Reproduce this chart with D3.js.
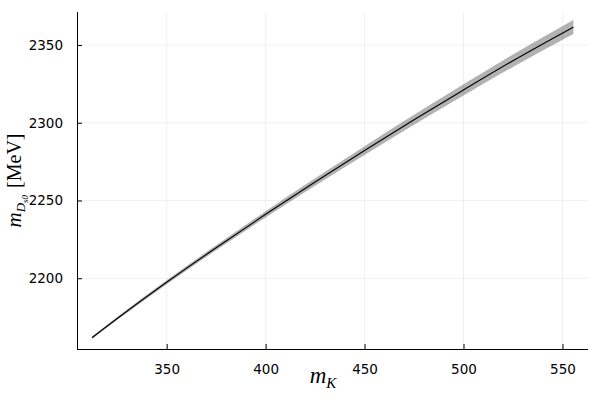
<!DOCTYPE html>
<html>
<head>
<meta charset="utf-8">
<script src="https://cdn.jsdelivr.net/npm/d3@7"></script>
<style>
  html, body { margin: 0; padding: 0; background: #fff; }
  svg { display: block; }
</style>
</head>
<body>
<div id="chart"></div>
<script>
// kaon mass (MeV) vs D_s0 mass (MeV), central curve with error band
const mK = [312.3, 325, 350, 375, 400, 425, 450, 475, 500, 525, 555.5];
const mDs0 = [2161.8, 2174.1, 2197.4, 2219.6, 2241.1, 2261.9, 2282.1, 2301.9, 2321.1, 2339.9, 2361.5];
const mDs0Err = [0.8, 1.0, 1.3, 1.6, 2.0, 2.4, 2.8, 3.2, 3.6, 4.0, 4.5];

const xTicks = [350, 400, 450, 500, 550];
const yTicks = [2200, 2250, 2300, 2350];
const xLimits = [304.7, 562.9];
const yLimits = [2154.5, 2371.2];

const W = 600, H = 400;
const plot = { left: 77, right: 588, top: 12, bottom: 349 };

const svg = d3.select('#chart')
    .append('svg')
    .attr('width', W)
    .attr('height', H);

const x = d3.scaleLinear().domain(xLimits).range([plot.left, plot.right]);
const y = d3.scaleLinear().domain(yLimits).range([plot.bottom, plot.top]);

const rows = mK.map((v, i) => ({ x: v, y: mDs0[i], e: mDs0Err[i] }));

// Grid
const grid = svg.append('g').attr('class', 'grid');
grid.selectAll('line.vx')
    .data(xTicks)
    .join('line')
    .attr('x1', d => x(d)).attr('x2', d => x(d))
    .attr('y1', plot.top).attr('y2', plot.bottom)
    .attr('stroke', '#000').attr('stroke-opacity', 0.1).attr('stroke-width', 0.6);
grid.selectAll('line.hy')
    .data(yTicks)
    .join('line')
    .attr('x1', plot.left).attr('x2', plot.right)
    .attr('y1', d => y(d)).attr('y2', d => y(d))
    .attr('stroke', '#000').attr('stroke-opacity', 0.1).attr('stroke-width', 0.6);

// Error band
const band = d3.area()
    .x(d => x(d.x))
    .y0(d => y(d.y - d.e))
    .y1(d => y(d.y + d.e))
    .curve(d3.curveMonotoneX);
svg.append('path')
    .datum(rows)
    .attr('d', band)
    .attr('fill', '#000')
    .attr('fill-opacity', 0.3);

// Central curve
const line = d3.line()
    .x(d => x(d.x))
    .y(d => y(d.y))
    .curve(d3.curveMonotoneX);
svg.append('path')
    .datum(rows)
    .attr('d', line)
    .attr('fill', 'none')
    .attr('stroke', '#000')
    .attr('stroke-width', 1.1);

// Axes (ticks point inward, only left + bottom spines)
const fmt = d3.format('d');
const xAxis = svg.append('g')
    .attr('transform', `translate(0,${plot.bottom})`)
    .call(d3.axisBottom(x).tickValues(xTicks).tickFormat(fmt).tickSizeInner(-5).tickSizeOuter(0).tickPadding(15));
const yAxis = svg.append('g')
    .attr('transform', `translate(${plot.left},0)`)
    .call(d3.axisLeft(y).tickValues(yTicks).tickFormat(fmt).tickSizeInner(-5).tickSizeOuter(0).tickPadding(14));

[xAxis, yAxis].forEach(a => {
    a.select('.domain').attr('stroke', '#000').attr('stroke-width', 1);
    a.selectAll('.tick line').attr('stroke', '#000').attr('stroke-width', 1);
    a.selectAll('.tick text')
        .attr('fill', '#000')
        .attr('font-family', '"DejaVu Sans", sans-serif')
        .attr('font-size', '13.5px');
});
yAxis.select('.domain').attr('d', `M0.5,${plot.top}V${plot.bottom}`);
xAxis.select('.domain').attr('d', `M${plot.left},0.5H${plot.right}`);

// Axis labels (LaTeX-style)
const serif = '"Liberation Serif", "DejaVu Serif", serif';
const xl = svg.append('text')
    .attr('x', 323).attr('y', 383)
    .attr('text-anchor', 'middle')
    .attr('font-family', serif);
xl.append('tspan').attr('font-style', 'italic').attr('font-size', '23px').text('m');
xl.append('tspan').attr('font-style', 'italic').attr('font-size', '15px').attr('dy', 5).text('K');

const yl = svg.append('text')
    .attr('transform', `translate(21,${(plot.top + plot.bottom) / 2}) rotate(-90)`)
    .attr('text-anchor', 'middle')
    .attr('font-family', serif);
yl.append('tspan').attr('font-style', 'italic').attr('font-size', '21px').text('m');
yl.append('tspan').attr('font-style', 'italic').attr('font-size', '13px').attr('dy', 4).text('D');
yl.append('tspan').attr('font-style', 'italic').attr('font-size', '9px').attr('dy', 3).text('s0');
yl.append('tspan').attr('font-size', '20px').attr('dy', -7).attr('dx', 7).text('[MeV]');
</script>
</body>
</html>
